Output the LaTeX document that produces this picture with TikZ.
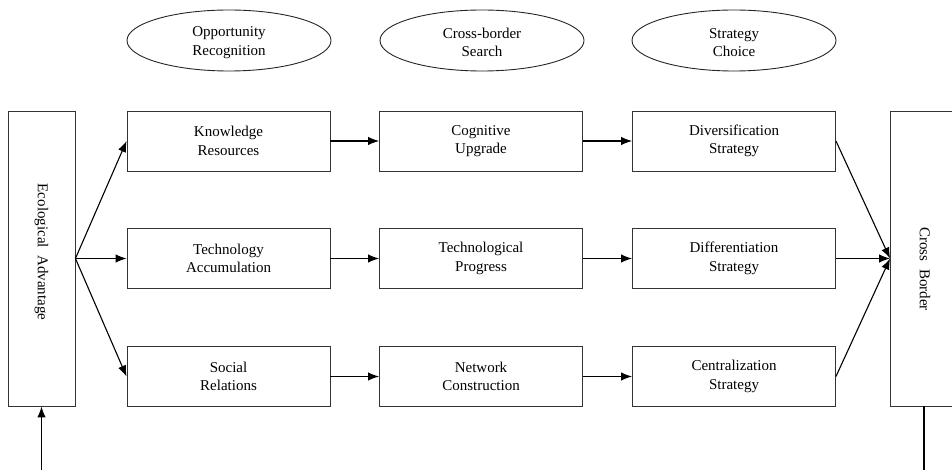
\documentclass[tikz,border=0pt]{standalone}
\usepackage{fontspec}
\setmainfont{Liberation Serif}
\usetikzlibrary{arrows.meta,shapes.geometric}
\begin{document}
\begin{tikzpicture}[x=1pt,y=-1pt,
  every node/.style={font=\fontsize{15}{18.5}\selectfont, align=center, text=black},
  stagebox/.style={draw=black!80, line width=0.9pt, minimum width=203pt, minimum height=60pt, inner sep=0pt},
  phase/.style={draw=black!85, line width=0.9pt, ellipse, minimum width=204pt, minimum height=61pt, inner sep=0pt},
  sidebox/.style={draw=black!80, line width=0.9pt, minimum width=67pt, minimum height=295pt, inner sep=0pt},
  flow/.style={line width=1.1pt, -{Latex[length=11pt,width=8.5pt]}}]
\useasboundingbox (0,0) rectangle (952,470);

% stage headings
\node[phase] (h1) at (229,40.5) {};
\node[phase] (h2) at (482,40.5) {};
\node[phase] (h3) at (734,40.5) {};
\node at ([yshift=-2pt]h1.center) {Opportunity\\Recognition};
\node at ([yshift=-2pt]h2.center) {Cross-border\\Search};
\node at ([yshift=-2pt]h3.center) {Strategy\\Choice};

% left and right pillars
\node[sidebox] (eco) at (41.5,258.5) {};
\node[rotate=-90] at (41.5,252) {Ecological\ \ Advantage};
\node[sidebox] (cb) at (924,258.5) {};
\node[rotate=-90] at (925,269) {Cross\ \ Border};

% three rows of stages
\node[stagebox] (k1) at (228.5,141) {Knowledge\\Resources};
\node[stagebox] (k2) at (481,141) {Cognitive\\Upgrade};
\node[stagebox] (k3) at (734,141) {Diversification\\Strategy};

\node[stagebox] (t1) at (228.5,258.5) {Technology\\Accumulation};
\node[stagebox] (t2) at (481,258.5) {Technological\\Progress};
\node[stagebox] (t3) at (734,258.5) {Differentiation\\Strategy};

\node[stagebox] (s1) at (228.5,376.5) {Social\\Relations};
\node[stagebox] (s2) at (481,376.5) {Network\\Construction};
\node[stagebox] (s3) at (734,376.5) {Centralization\\Strategy};

% connectors
\draw[flow] (eco.east) -- (k1.west);
\draw[flow] (eco.east) -- (t1.west);
\draw[flow] (eco.east) -- (s1.west);

\draw[flow] (k1) -- (k2);
\draw[flow] (k2) -- (k3);
\draw[flow] (t1) -- (t2);
\draw[flow] (t2) -- (t3);
\draw[flow] (s1) -- (s2);
\draw[flow] (s2) -- (s3);

\draw[flow] (k3.east) -- (cb.west);
\draw[flow] (t3.east) -- (cb.west);
\draw[flow] (s3.east) -- (cb.west);

% feedback lines at the bottom
\coordinate (inlet) at (41.5,470);
\coordinate (outlet) at (924,470);
\draw[flow] (inlet) -- (eco.south);
\draw[line width=1.1pt] (cb.south) -- (outlet);
\end{tikzpicture}
\end{document}
